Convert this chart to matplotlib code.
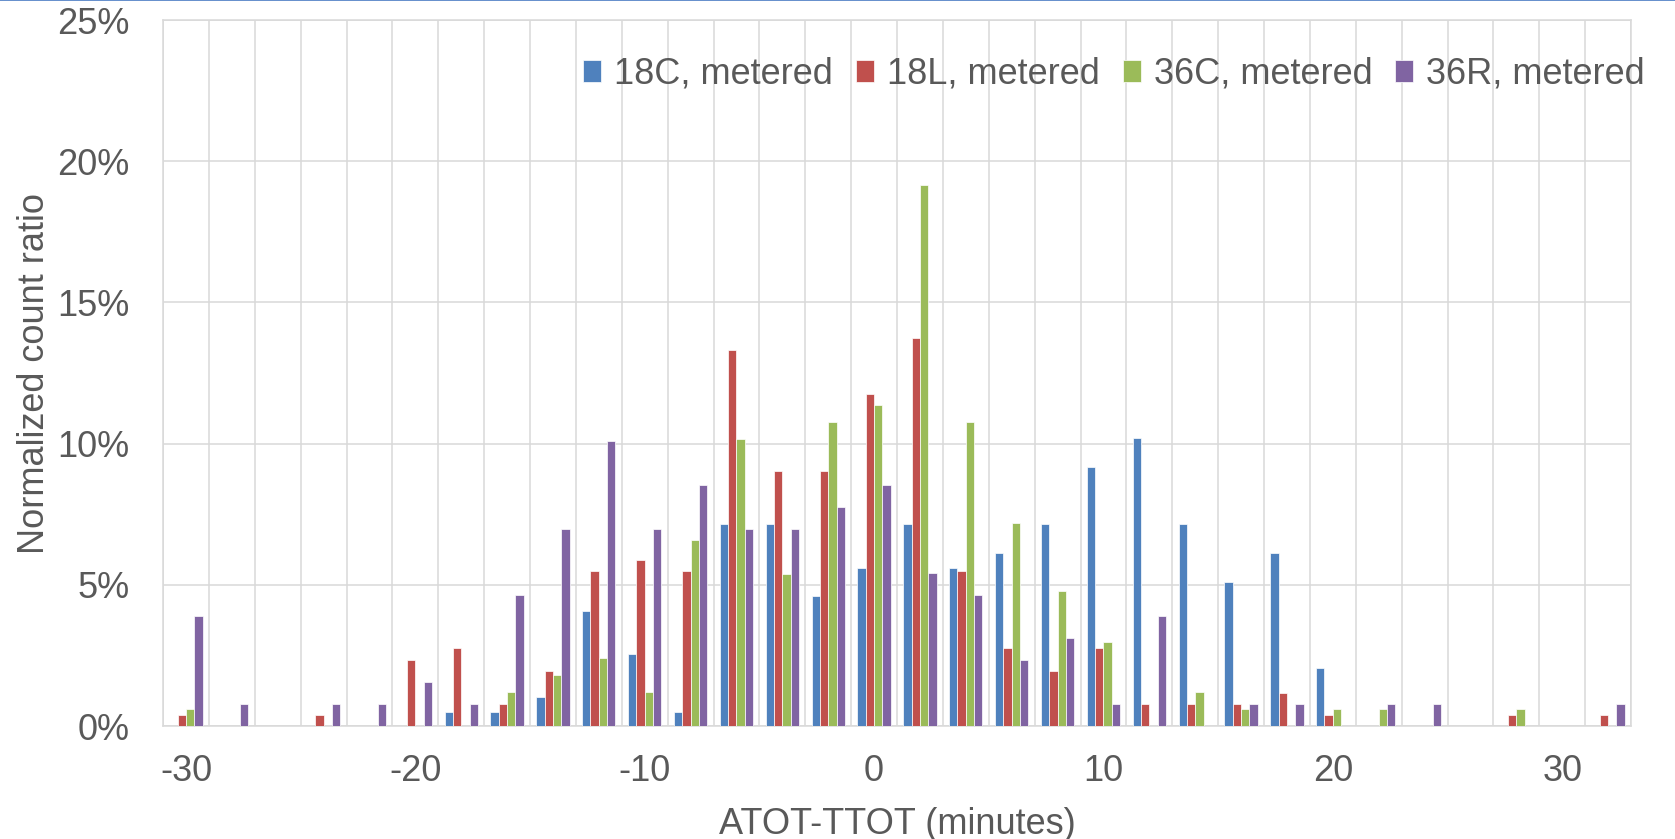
import numpy as np
import matplotlib
matplotlib.use("Agg")
import matplotlib.pyplot as plt
from matplotlib.lines import Line2D

plt.rcParams["font.family"] = ["Liberation Sans", "DejaVu Sans"]

# bins of ATOT-TTOT (minutes), values in percent
bins = [-30, -28, -26, -24, -22, -20, -18, -16, -14, -12, -10, -8, -6, -4, -2, 0,
        2, 4, 6, 8, 10, 12, 14, 16, 18, 20, 22, 24, 26, 28, 30, 32]

rwy_18c = [0, 0, 0, 0, 0, 0, 0.51, 0.51, 1.02, 4.08, 2.55, 0.51, 7.14, 7.14, 4.59, 5.61,
           7.14, 5.61, 6.12, 7.14, 9.18, 10.2, 7.14, 5.1, 6.12, 2.04, 0, 0, 0, 0, 0, 0]
rwy_18l = [0.39, 0, 0, 0.39, 0, 2.35, 2.75, 0.78, 1.96, 5.49, 5.88, 5.49, 13.33, 9.02, 9.02, 11.76,
           13.73, 5.49, 2.75, 1.96, 2.75, 0.78, 0.78, 0.78, 1.18, 0.39, 0, 0, 0, 0.39, 0, 0.39]
rwy_36c = [0.6, 0, 0, 0, 0, 0, 0, 1.2, 1.8, 2.4, 1.2, 6.59, 10.18, 5.39, 10.78, 11.38,
           19.16, 10.78, 7.19, 4.79, 2.99, 0, 1.2, 0.6, 0, 0.6, 0.6, 0, 0, 0.6, 0, 0]
rwy_36r = [3.88, 0.78, 0, 0.78, 0.78, 1.55, 0.78, 4.65, 6.98, 10.08, 6.98, 8.53, 6.98, 6.98, 7.75, 8.53,
           5.43, 4.65, 2.33, 3.1, 0.78, 3.88, 0, 0.78, 0.78, 0, 0.78, 0.78, 0, 0, 0, 0.78]

series = [rwy_18c, rwy_18l, rwy_36c, rwy_36r]
names = ["18C, metered", "18L, metered", "36C, metered", "36R, metered"]
colors = ["#4F81BD", "#C0504D", "#9BBB59", "#8064A2"]

grid_c = "#D9D9D9"
text_c = "#595959"
fs = 26

fig = plt.figure(figsize=(16.75, 8.39), dpi=100)
ax = fig.add_axes([163 / 1675, 1 - 726 / 839, (1631 - 163) / 1675, (726 - 20) / 839])

x = np.array(bins, dtype=float)
w = 2 / 5.5
for i, (vals, name, col) in enumerate(zip(series, names, colors)):
    ax.bar(x + (i - 1.5) * w, vals, width=w, color=col, edgecolor="white",
           linewidth=0.5, label=name, zorder=3)

ax.set_xlim(-31, 33)
ax.set_ylim(0, 25)
ax.set_xticks(range(-30, 31, 10))
ax.set_xticklabels([str(v) for v in range(-30, 31, 10)])
ax.set_xticks(np.arange(-31, 34, 2), minor=True)
ax.set_yticks(range(0, 26, 5))
ax.set_yticklabels([f"{v}%" for v in range(0, 26, 5)])

ax.set_axisbelow(True)
ax.grid(which="minor", axis="x", color=grid_c, linewidth=1.1, zorder=0)
ax.grid(which="major", axis="y", color=grid_c, linewidth=1.1, zorder=0)
for s in ax.spines.values():
    s.set_color(grid_c)
    s.set_linewidth(1.1)

ax.tick_params(which="both", length=0)
ax.tick_params(axis="x", pad=20, labelsize=fs, labelcolor=text_c)
ax.tick_params(axis="y", pad=24, labelsize=fs, labelcolor=text_c)

ax.set_xlabel("ATOT-TTOT (minutes)", fontsize=fs, color=text_c)
ax.xaxis.set_label_coords(0.5, -(824 - 726) / 706, transform=ax.transAxes)
ax.xaxis.label.set_va("center")
ax.set_ylabel("Normalized count ratio", fontsize=fs, color=text_c)
ax.yaxis.set_label_coords(-(163 - 35) / 1468, 0.5)
ax.yaxis.label.set_va("center")

ax.legend(loc="center right", bbox_to_anchor=(1645 / 1675, 1 - 74 / 839),
          bbox_transform=fig.transFigure, ncol=4, frameon=False, fontsize=fs,
          labelcolor=text_c, handlelength=0.5, handleheight=0.55,
          handletextpad=0.36, columnspacing=0.64, borderpad=0, borderaxespad=0)

fig.add_artist(Line2D([0, 1], [0.9995, 0.9995], transform=fig.transFigure,
                      color="#4A7BC4", linewidth=1.2))

fig.savefig("out.png", dpi=100)
